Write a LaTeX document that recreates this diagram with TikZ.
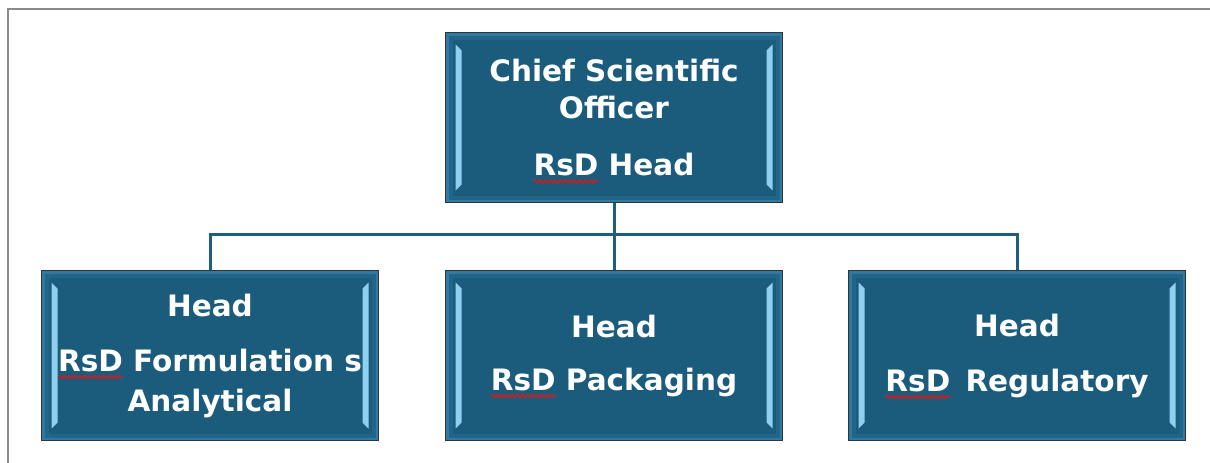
\documentclass[tikz,border=0pt]{standalone}
\usepackage{fontspec}
\setmainfont{DejaVu Sans}
\usetikzlibrary{decorations.pathmorphing}
\definecolor{boxblue}{HTML}{1B5C7D}
\definecolor{boxmid}{HTML}{22658A}
\definecolor{boxedge}{HTML}{3079A0}
\definecolor{boxhi}{HTML}{8FD0EE}
\definecolor{linkblue}{HTML}{1E5E7E}
\definecolor{framegray}{HTML}{8A8A8A}
\definecolor{spellred}{HTML}{C81E1E}
\newsavebox\spellbox
\newcommand\spellwave[1]{\sbox\spellbox{#1}\rlap{\tikz[overlay]\draw[spellred, line width=1.5pt, decorate, decoration={snake, amplitude=1.5pt, segment length=5pt}] (0pt,-6pt) -- (\wd\spellbox,-6pt);}\usebox\spellbox}
\tikzset{
  orgbox/.style={draw=black!80, line width=1.5pt, fill=boxblue,
    minimum width=337pt, minimum height=170pt, inner sep=0pt,
    text=white, align=center,
    font=\bfseries\fontsize{29.5}{37}\selectfont,
    path picture={
      \fill[boxedge] (path picture bounding box.north west) rectangle (path picture bounding box.south east);
      \fill[boxmid] ([shift={(3pt,-3pt)}]path picture bounding box.north west) rectangle ([shift={(-3pt,3pt)}]path picture bounding box.south east);
      \fill[boxblue] ([shift={(7pt,-7pt)}]path picture bounding box.north west) rectangle ([shift={(-7pt,7pt)}]path picture bounding box.south east);
      \fill[boxhi] ([shift={(10pt,-12pt)}]path picture bounding box.north west) -- ([shift={(16pt,-18pt)}]path picture bounding box.north west) -- ([shift={(16pt,18pt)}]path picture bounding box.south west) -- ([shift={(10pt,12pt)}]path picture bounding box.south west) -- cycle;
      \fill[boxhi] ([shift={(-10pt,-12pt)}]path picture bounding box.north east) -- ([shift={(-16pt,-18pt)}]path picture bounding box.north east) -- ([shift={(-16pt,18pt)}]path picture bounding box.south east) -- ([shift={(-10pt,12pt)}]path picture bounding box.south east) -- cycle;
    }},
  link/.style={draw=linkblue, line width=3pt},
  frameline/.style={draw=framegray, line width=2pt}
}
\begin{document}
\begin{tikzpicture}[x=1pt, y=-1pt]
\useasboundingbox (0,0) rectangle (1210,463);
\draw[frameline] (8,463) -- (8,9) -- (1210,9);

\node[orgbox] (top) at (614,117.5) {Chief Scientific\\Officer\\[20pt]\spellwave{RsD} Head};
\node[orgbox] (left) at (210,355.5) {\raisebox{0pt}[0pt][0pt]{}Head\\[18pt]\spellwave{RsD} Formulation s\\[3pt]Analytical};
\node[orgbox] (mid) at (614,355.5) {Head\\[16pt]\spellwave{RsD} Packaging};
\node[orgbox] (right) at (1017,355.5) {Head\\[18pt]\spellwave{RsD}\hspace{5pt} Regulatory};

\draw[link] (top.south) -- (mid.north);
\draw[link] (left.north) -- ++(0,-35) -| (right.north);
\end{tikzpicture}
\end{document}
